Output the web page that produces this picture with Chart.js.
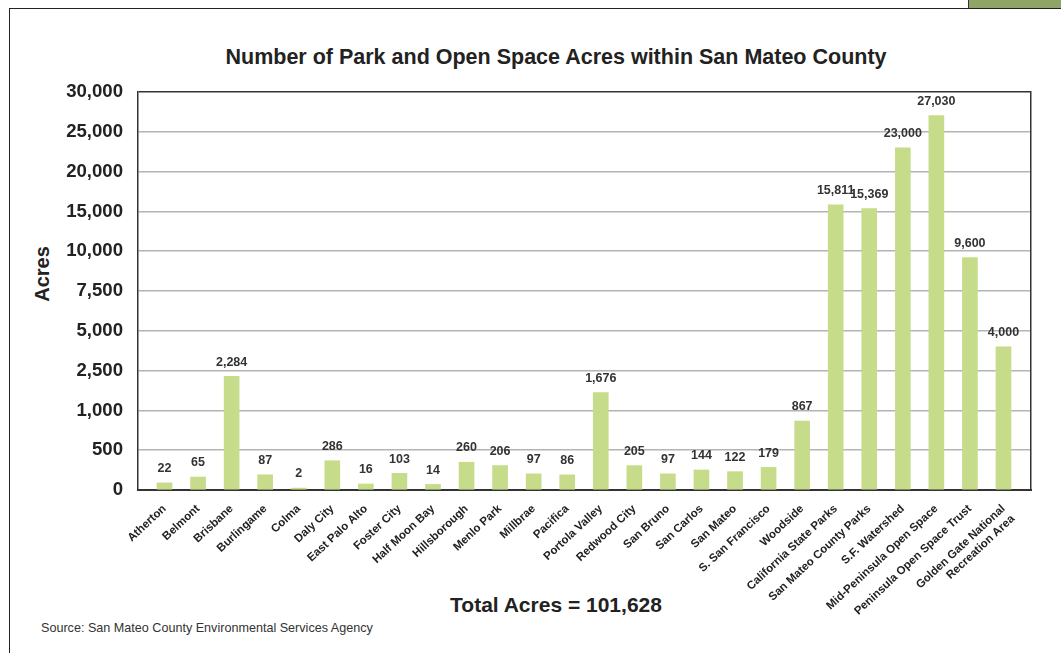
<!DOCTYPE html>
<html lang="en">
<head>
  <meta charset="UTF-8">
  <title>Number of Park and Open Space Acres within San Mateo County</title>
  <script src="https://cdn.jsdelivr.net/npm/chart.js@4"></script>
  <style>
    body { margin: 0; background: #fff; font-family: "Liberation Sans", Arial, sans-serif; color: #222; }
    .page { position: relative; width: 1061px; height: 653px; overflow: hidden; }
    .frame { position: absolute; left: 9px; top: 8px; width: 1100px; height: 700px; border-left: 1.5px solid #222; border-top: 1.5px solid #222; }
    .tab { position: absolute; left: 968px; top: 0; width: 93px; height: 8px; background: #8fa466; border-left: 1.5px solid #333; }
    .title { position: absolute; left: 0; top: 47px; width: 1112px; text-align: center; font-weight: bold; font-size: 21.5px; line-height: 21px; }
    .ytitle { position: absolute; left: -8px; top: 262px; width: 100px; height: 24px; line-height: 24px; text-align: center; font-weight: bold; font-size: 20px; transform: rotate(-90deg); }
    .total { position: absolute; left: 0; top: 595px; width: 1112px; text-align: center; font-weight: bold; font-size: 21px; line-height: 20px; }
    .source { position: absolute; left: 41px; top: 622px; font-size: 12.6px; line-height: 12.5px; color: #333; }
    .chart-box { position: absolute; left: 0; top: 0; width: 1061px; height: 653px; }
  </style>
</head>
<body>
  <div class="page">
    <div class="frame"></div>
    <div class="tab"></div>
    <div class="title">Number of Park and Open Space Acres within San Mateo County</div>
    <div class="ytitle">Acres</div>
    <div class="total">Total Acres = 101,628</div>
    <div class="source">Source: San Mateo County Environmental Services Agency</div>
    <div class="chart-box"><canvas id="acres-chart" width="1061" height="653"></canvas></div>
  </div>

  <script>
    const categories = [
      'Atherton', 'Belmont', 'Brisbane', 'Burlingame', 'Colma', 'Daly City', 'East Palo Alto',
      'Foster City', 'Half Moon Bay', 'Hillsborough', 'Menlo Park', 'Millbrae', 'Pacifica',
      'Portola Valley', 'Redwood City', 'San Bruno', 'San Carlos', 'San Mateo', 'S. San Francisco',
      'Woodside', 'California State Parks', 'San Mateo County Parks', 'S.F. Watershed',
      'Mid-Peninsula Open Space', 'Peninsula Open Space Trust', ['Golden Gate National', 'Recreation Area']
    ];
    const acres = [
      22, 65, 2284, 87, 2, 286, 16,
      103, 14, 260, 206, 97, 86,
      1676, 205, 97, 144, 122, 179,
      867, 15811, 15369, 23000,
      27030, 9600, 4000
    ];
    // the value axis is not linear: these ticks sit at equal distances
    const yTicks = [0, 500, 1000, 2500, 5000, 7500, 10000, 15000, 20000, 25000, 30000];

    const fmt = v => v.toLocaleString('en-US');

    // scale that maps each tick interval onto the same height
    class PiecewiseScale extends Chart.LinearScale {
      static id = 'piecewise';
      buildTicks() {
        return yTicks.map(v => ({ value: v }));
      }
      getPixelForValue(value) {
        const n = yTicks.length - 1;
        let pos = 0;
        if (value >= yTicks[n]) {
          pos = n;
        } else if (value > 0) {
          for (let i = 1; i <= n; i++) {
            if (value <= yTicks[i]) {
              let f = (value - yTicks[i - 1]) / (yTicks[i] - yTicks[i - 1]);
              if (i === 1) f = Math.pow(f, 0.55); // lowest band drawn stretched, as in the print
              pos = i - 1 + f;
              break;
            }
          }
        }
        return this.getPixelForDecimal(pos / n);
      }
      getValueForPixel(pixel) {
        const n = yTicks.length - 1;
        const pos = this.getDecimalForPixel(pixel) * n;
        const i = Math.min(Math.floor(pos), n - 1);
        let f = pos - i;
        if (i === 0) f = Math.pow(f, 1 / 0.55);
        return yTicks[i] + f * (yTicks[i + 1] - yTicks[i]);
      }
    }
    Chart.register(PiecewiseScale);

    // value over each bar
    const barLabels = {
      id: 'barLabels',
      afterDatasetsDraw(chart) {
        const ctx = chart.ctx;
        ctx.save();
        ctx.font = 'bold 12.5px "Liberation Sans", Arial, sans-serif';
        ctx.fillStyle = '#333';
        ctx.textAlign = 'center';
        ctx.textBaseline = 'bottom';
        chart.getDatasetMeta(0).data.forEach((bar, i) => {
          ctx.fillText(fmt(acres[i]), bar.x, bar.y - 8);
        });
        ctx.restore();
      }
    };

    const ctx = document.getElementById('acres-chart').getContext('2d');
    new Chart(ctx, {
      type: 'bar',
      data: {
        datasets: [{
          label: 'Acres',
          data: acres.map((v, i) => ({ x: i, y: v })),
          backgroundColor: '#c6dc8a',
          barThickness: 15
        }]
      },
      options: {
        responsive: false,
        animation: false,
        layout: { padding: { top: 92, right: 30, left: 0, bottom: 0 } },
        scales: {
          x: {
            type: 'linear',
            offset: false,
            min: -0.79,
            max: categories.length - 1 + 0.82,
            afterFit: s => { s.height = 163; },
            grid: { display: false, offset: false },
            border: { color: '#333', width: 2 },
            ticks: {
              stepSize: 1,
              includeBounds: false,
              autoSkip: false,
              minRotation: 43,
              maxRotation: 43,
              padding: 4,
              color: '#222',
              font: { family: '"Liberation Sans", Arial, sans-serif', size: 11.5, weight: 'bold' },
              callback: v => (Number.isInteger(v) && categories[v] !== undefined ? categories[v] : '')
            }
          },
          y: {
            type: 'piecewise',
            min: 0,
            max: 30000,
            afterFit: s => { s.width = 138; },
            grid: {
              drawTicks: false,
              lineWidth: 1.5,
              color: c => (c.index === yTicks.length - 1 ? '#333' : '#b4b4b4')
            },
            border: { color: '#333', width: 1.5 },
            ticks: {
              padding: 15,
              color: '#222',
              font: { family: '"Liberation Sans", Arial, sans-serif', size: 18.6, weight: 'bold' },
              callback: v => fmt(v)
            }
          },
          yRight: {
            position: 'right',
            min: 0,
            max: 1,
            afterFit: s => { s.width = 0; },
            grid: { display: false },
            ticks: { display: false },
            border: { color: '#333', width: 1.5 }
          }
        },
        plugins: {
          legend: { display: false },
          tooltip: { enabled: false }
        }
      },
      plugins: [barLabels]
    });
  </script>
</body>
</html>
